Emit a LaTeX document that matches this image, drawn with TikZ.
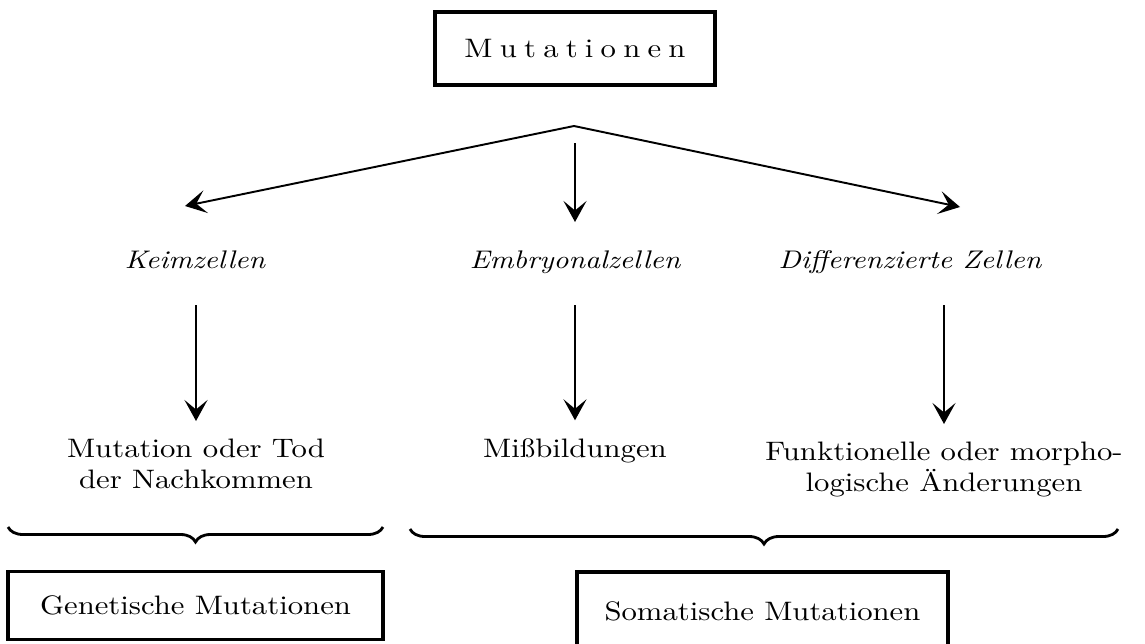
\documentclass[tikz,border=0pt]{standalone}
\usepackage{fontspec}
\setmainfont{lmroman10-regular}[Extension=.otf, ItalicFont=lmroman10-italic, BoldFont=lmroman10-bold, FakeStretch=1.15]
\usetikzlibrary{arrows.meta, positioning, decorations.pathreplacing}
\tikzstyle{frame} = [draw, line width=2pt, inner sep=0pt, font=\fontsize{15.2}{17.6}\selectfont]
\tikzstyle{cell} = [inner sep=0pt, anchor=base, font=\fontsize{14.5}{17}\selectfont\itshape]
\tikzstyle{effect} = [inner sep=0pt, align=center, font=\fontsize{15.2}{17.6}\selectfont]
\tikzstyle{arrow} = [line width=1.1pt, -{Stealth[length=4.2mm, width=4.6mm, inset=1.9mm]}]
\tikzstyle{curly} = [line width=1.6pt, decorate, decoration={brace, mirror, amplitude=3mm}]

\begin{document}
\begin{tikzpicture}
    \useasboundingbox (0,0) rectangle (22.9,12.86);
    \clip (0,0) rectangle (22.9,12.86);

    % Top box
    \node[frame, minimum width=5.6cm, minimum height=1.46cm] (top) at (11.5,11.89) {\addfontfeature{LetterSpace=27}Mutationen};

    % Cell types
    \node[cell] (keim) at (3.9,7.5) {Keimzellen};
    \node[cell] (embryo) at (11.5,7.5) {Embryonalzellen};
    \node[cell] (diff) at (18.2,7.5) {Differenzierte Zellen};

    % Fan out from the top box
    \coordinate (apex) at (11.48,10.34);
    \coordinate (keimtip) at (3.7,8.74);
    \coordinate (embryotip) at (11.5,8.42);
    \coordinate (difftip) at (19.2,8.72);
    \draw[arrow] (apex) -- (keimtip);
    \draw[arrow] (apex) -- (difftip);
    \draw[arrow, shorten <=0.34cm] (apex -| embryotip) -- (embryotip);

    % Consequences
    \node[effect, anchor=north] (tod) at (3.92,4.09) {Mutation oder Tod\\der Nachkommen};
    \node[effect, anchor=base] (miss) at (11.5,3.72) {Mißbildungen};
    \node[effect, anchor=north] (funk) at (18.88,4.03) {Funktionelle oder morpho-\\logische Änderungen};

    \draw[arrow, shorten <=0.74cm, shorten >=0.35cm] (keim.base -| tod.north) -- (tod.north);
    \draw[arrow, shorten <=0.74cm, shorten >=0.35cm] (embryo.base -| miss.north) -- (miss.north);
    \draw[arrow, shorten <=0.74cm, shorten >=0.35cm] (diff.base -| funk.north) -- (funk.north);

    % Braces
    \coordinate (genleft) at (0.16,2.32);
    \coordinate (genright) at (7.66,2.32);
    \coordinate (somleft) at (8.2,2.28);
    \coordinate (somright) at (22.36,2.28);
    \draw[curly] (genleft) -- (genright);
    \draw[curly] (somleft) -- (somright);

    % Bottom boxes
    \node[frame, minimum width=7.5cm, minimum height=1.36cm] (gen) at (3.91,0.75) {Genetische Mutationen};
    \node[frame, minimum width=7.42cm, minimum height=1.56cm] (som) at (15.25,0.64) {Somatische Mutationen};
\end{tikzpicture}
\end{document}
